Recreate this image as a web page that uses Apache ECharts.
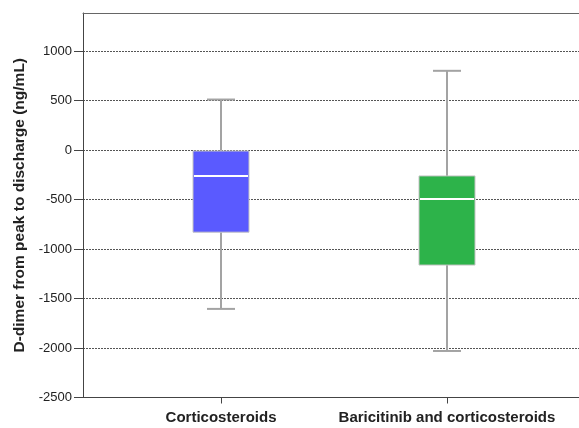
<!DOCTYPE html>
<html>
<head>
<meta charset="utf-8">
<script src="https://cdn.jsdelivr.net/npm/echarts@6/dist/echarts.min.js"></script>
<style>html,body{margin:0;padding:0;background:#fff;}#c{width:579px;height:428px;}</style>
</head>
<body>
<div id="c"></div>
<script>
const categories = ['Corticosteroids', 'Baricitinib and corticosteroids'];
const whiskerLow = [-1605, -2030];
const q1 = [-830, -1162];
const median = [-263, -495];
const q3 = [-10, -262];
const whiskerHigh = [510, 800];
const boxColors = ['#5a5aff', '#2db34a'];

// category slots (layout only): place the two groups on a finer band grid
const slotCount = 20;
const slotIndex = [5, 14];
const axisCats = Array.from({length: slotCount}, () => '');
slotIndex.forEach((s, i) => { axisCats[s] = categories[i]; });

const boxData = categories.map((c, i) => [slotIndex[i], whiskerLow[i], q1[i], median[i], q3[i], whiskerHigh[i], i]);

const FONT = "'Liberation Sans', Arial, sans-serif";
const chart = echarts.init(document.getElementById('c'), null, {renderer: 'canvas'});
const showCat = (idx, val) => val !== '';

chart.setOption({
  animation: false,
  backgroundColor: '#fff',
  grid: {left: 83, top: 13, width: 502, height: 384.5, show: false, outerBoundsMode: 'none', containLabel: false},
  xAxis: [{
    type: 'category',
    data: axisCats,
    boundaryGap: true,
    axisLine: {onZero: false, lineStyle: {color: '#444', width: 1}},
    axisTick: {show: true, alignWithLabel: true, interval: showCat, length: 6, lineStyle: {color: '#444'}},
    axisLabel: {interval: showCat, fontSize: 15, fontWeight: 'bold', color: '#222', margin: 13, fontFamily: FONT},
    splitLine: {show: false}
  }, {
    type: 'category',
    position: 'top',
    data: axisCats,
    axisLine: {show: true, onZero: false, lineStyle: {color: '#666', width: 1}},
    axisTick: {show: false},
    axisLabel: {show: false},
    splitLine: {show: false},
    z: 5
  }],
  yAxis: {
    type: 'value',
    min: -2500,
    max: 1384,
    interval: 500,
    name: 'D-dimer from peak to discharge (ng/mL)',
    nameLocation: 'middle',
    nameGap: 49,
    nameTextStyle: {fontSize: 15.5, fontWeight: 'bold', color: '#222', fontFamily: FONT},
    axisLine: {show: true, onZero: false, lineStyle: {color: '#444', width: 1}},
    axisTick: {show: true, length: 9, lineStyle: {color: '#444'}},
    axisLabel: {fontSize: 13, color: '#222', margin: 11, fontFamily: FONT, showMaxLabel: false,
      formatter: v => (v % 500 === 0 ? String(v) : '')},
    splitLine: {show: true, lineStyle: {color: '#555', type: [2, 1], width: 1}}
  },
  series: [{
    type: 'custom',
    data: boxData,
    encode: {x: 0, y: [1, 2, 3, 4, 5]},
    renderItem: function (params, api) {
      const x = api.value(0);
      const pLow = api.coord([x, api.value(1)]);
      const pQ1 = api.coord([x, api.value(2)]);
      const pMed = api.coord([x, api.value(3)]);
      const pQ3 = api.coord([x, api.value(4)]);
      const pHigh = api.coord([x, api.value(5)]);
      const cx = Math.round(pLow[0]);
      const half = 28, cap = 14;
      const color = boxColors[api.value(6)];
      const wStyle = {stroke: '#a3a3a3', lineWidth: 2};
      return {
        type: 'group',
        children: [
          {type: 'line', shape: {x1: cx, y1: pHigh[1], x2: cx, y2: pQ3[1]}, style: wStyle},
          {type: 'line', shape: {x1: cx, y1: pQ1[1], x2: cx, y2: pLow[1]}, style: wStyle},
          {type: 'line', shape: {x1: cx - cap, y1: pHigh[1], x2: cx + cap, y2: pHigh[1]}, style: wStyle},
          {type: 'line', shape: {x1: cx - cap, y1: pLow[1], x2: cx + cap, y2: pLow[1]}, style: wStyle},
          {type: 'rect', shape: {x: cx - half, y: pQ3[1], width: 2 * half, height: pQ1[1] - pQ3[1]},
            style: {fill: color, stroke: '#c4c4c4', lineWidth: 1}},
          {type: 'line', shape: {x1: cx - half + 1, y1: pMed[1], x2: cx + half - 1, y2: pMed[1]},
            style: {stroke: '#ffffff', lineWidth: 2}}
        ]
      };
    }
  }]
});
</script>
</body>
</html>
